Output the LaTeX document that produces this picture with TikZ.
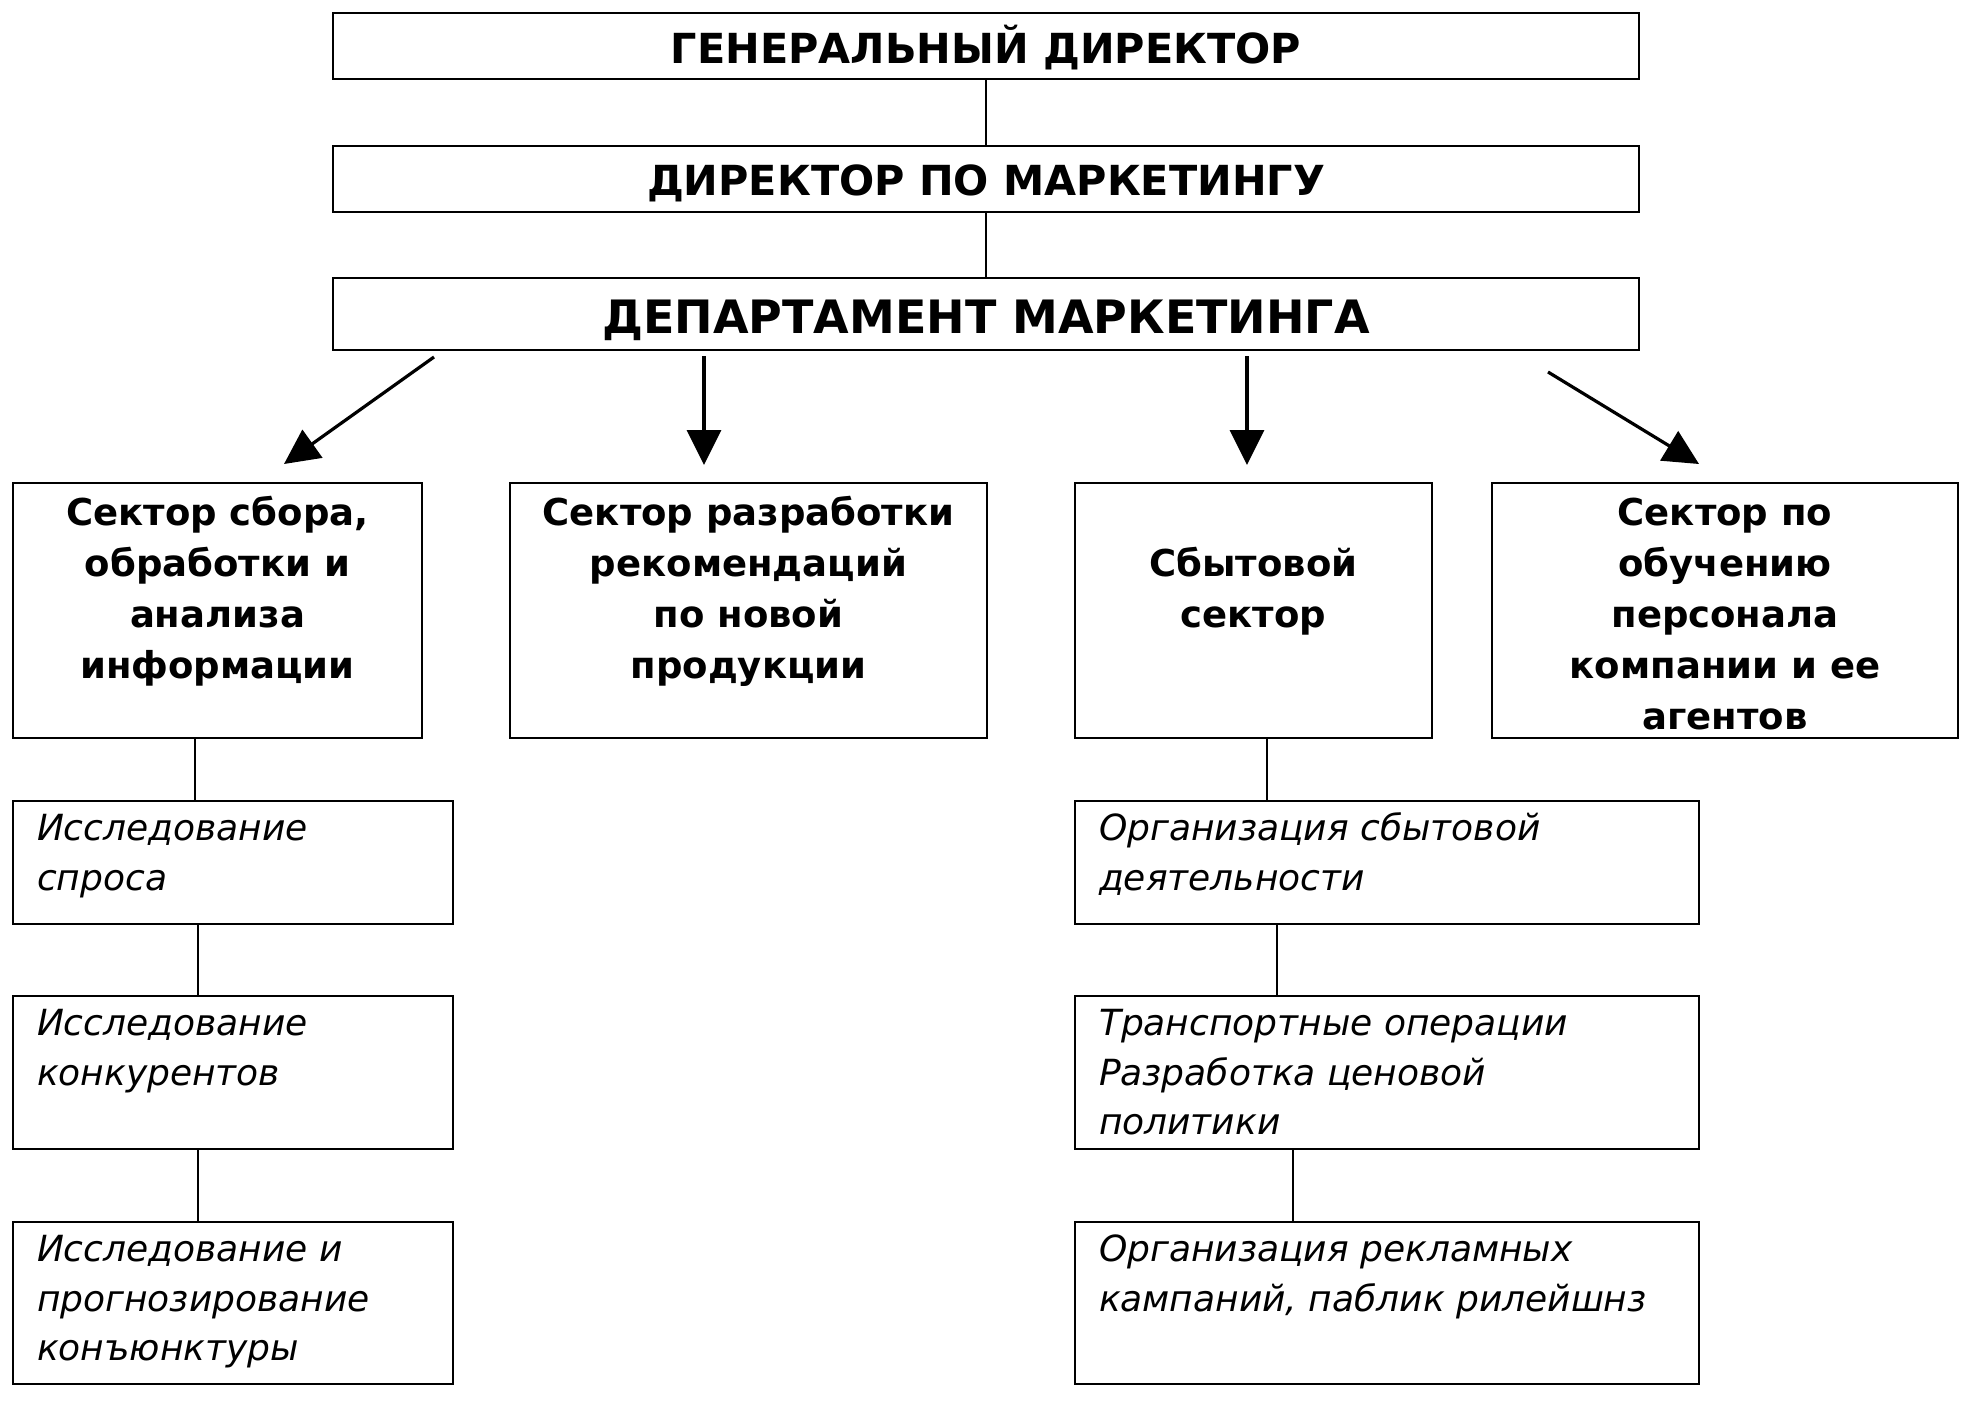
\documentclass[tikz,border=0pt]{standalone}
\usepackage{fontspec}
\setmainfont{DejaVu Sans}
\usetikzlibrary{arrows.meta,calc}
\begin{document}
\begin{tikzpicture}[x=0.5pt,y=-0.5pt,
  frm/.style={draw=black, line width=1.4pt, fill=white, inner sep=0pt},
  hbox/.style={frm, minimum width=653pt, font=\fontsize{20.7pt}{24pt}\selectfont\bfseries},
  link/.style={line width=0.9pt},
  arr/.style={line width=1.6pt, -{Triangle[length=17.5pt,width=17pt]}},
  sectxt/.style={anchor=base, inner sep=0pt, font=\fontsize{18.5pt}{25.5pt}\selectfont\bfseries},
  subtxt/.style={anchor=base west, inner sep=0pt, font=\fontsize{18pt}{24.75pt}\selectfont\itshape}]
\useasboundingbox[fill=white] (0,0) rectangle (1968,1425);

% top chain
\node[hbox, minimum height=33pt, text height=17.6pt, text depth=0pt] (gd) at (986,46) {ГЕНЕРАЛЬНЫЙ ДИРЕКТОР};
\node[hbox, minimum height=33pt, text height=16.1pt, text depth=0pt] (dm) at (986,179) {ДИРЕКТОР ПО МАРКЕТИНГУ};
\node[hbox, minimum height=36pt, text height=19.8pt, text depth=0pt, font=\fontsize{23pt}{26pt}\selectfont\bfseries] (dep) at (986,314) {ДЕПАРТАМЕНТ МАРКЕТИНГА};
\draw[link] (gd.south) -- (dm.north);
\draw[link] (dm.south) -- (dep.north);

% sector boxes
\node[frm, minimum width=204.5pt, minimum height=127.5pt] (s1) at (217.5,610.5) {};
\node[frm, minimum width=238.5pt, minimum height=127.5pt] (s2) at (748.5,610.5) {};
\node[frm, minimum width=178.5pt, minimum height=127.5pt] (s3) at (1253.5,610.5) {};
\node[frm, minimum width=233pt, minimum height=127.5pt] (s4) at (1725,610.5) {};

\node[sectxt] (t1) at ([yshift=-22pt]s1.north) {\parbox[t]{200pt}{\centering Сектор сбора,\\обработки и\\анализа\\информации}};
\node[sectxt] (t2) at ([yshift=-22pt]s2.north) {\parbox[t]{235pt}{\centering Сектор разработки\\рекомендаций\\по новой\\продукции}};
\node[sectxt] (t3) at ([yshift=-47.5pt]s3.north) {\parbox[t]{175pt}{\centering Сбытовой\\сектор}};
\node[sectxt] (t4) at ([yshift=-22pt]s4.north) {\parbox[t]{230pt}{\centering Сектор по\\обучению\\персонала\\компании и ее\\агентов}};

% arrows
\coordinate (a1s) at (434,357);  \coordinate (a1e) at (284,464);
\coordinate (a2s) at (704,356);  \coordinate (a2e) at (704,465);
\coordinate (a3s) at (1247,356); \coordinate (a3e) at (1247,465);
\coordinate (a4s) at (1548,372); \coordinate (a4e) at (1699,464);
\draw[arr] (a1s) -- (a1e);
\draw[arr] (a2s) -- (a2e);
\draw[arr] (a3s) -- (a3e);
\draw[arr] (a4s) -- (a4e);

% left column
\node[frm, minimum width=220pt, minimum height=61.5pt] (L1) at (233,862.5) {};
\node[frm, minimum width=220pt, minimum height=76.5pt] (L2) at (233,1072.5) {};
\node[frm, minimum width=220pt, minimum height=81pt] (L3) at (233,1303) {};
\node[subtxt] (lt1) at ([xshift=12.5pt,yshift=-20.5pt]L1.north west) {\parbox[t]{200pt}{\raggedright Исследование\\спроса}};
\node[subtxt] (lt2) at ([xshift=12.5pt,yshift=-20.5pt]L2.north west) {\parbox[t]{200pt}{\raggedright Исследование\\конкурентов}};
\node[subtxt] (lt3) at ([xshift=12.5pt,yshift=-20.5pt]L3.north west) {\parbox[t]{200pt}{\raggedright Исследование и\\прогнозирование\\конъюнктуры}};
\draw[link] ([xshift=-11.25pt]s1.south) -- ([xshift=-11.25pt]s1.south |- L1.north);
\draw[link] ([xshift=-17.5pt]L1.south) -- ([xshift=-17.5pt]L1.south |- L2.north);
\draw[link] ([xshift=-17.5pt]L2.south) -- ([xshift=-17.5pt]L2.south |- L3.north);

% right column
\node[frm, minimum width=312pt, minimum height=61.5pt] (R1) at (1387,862.5) {};
\node[frm, minimum width=312pt, minimum height=76.5pt] (R2) at (1387,1072.5) {};
\node[frm, minimum width=312pt, minimum height=81pt] (R3) at (1387,1303) {};
\node[subtxt] (rt1) at ([xshift=12.5pt,yshift=-20.5pt]R1.north west) {\parbox[t]{295pt}{\raggedright Организация сбытовой\\деятельности}};
\node[subtxt] (rt2) at ([xshift=12.5pt,yshift=-20.5pt]R2.north west) {\parbox[t]{295pt}{\raggedright Транспортные операции\\Разработка ценовой\\политики}};
\node[subtxt] (rt3) at ([xshift=12.5pt,yshift=-20.5pt]R3.north west) {\parbox[t]{295pt}{\raggedright Организация рекламных\\кампаний, паблик рилейшнз}};
\draw[link] ([xshift=6.75pt]s3.south) -- ([xshift=6.75pt]s3.south |- R1.north);
\draw[link] ([xshift=-55pt]R1.south) -- ([xshift=-55pt]R1.south |- R2.north);
\draw[link] ([xshift=-47pt]R2.south) -- ([xshift=-47pt]R2.south |- R3.north);
\end{tikzpicture}
\end{document}
